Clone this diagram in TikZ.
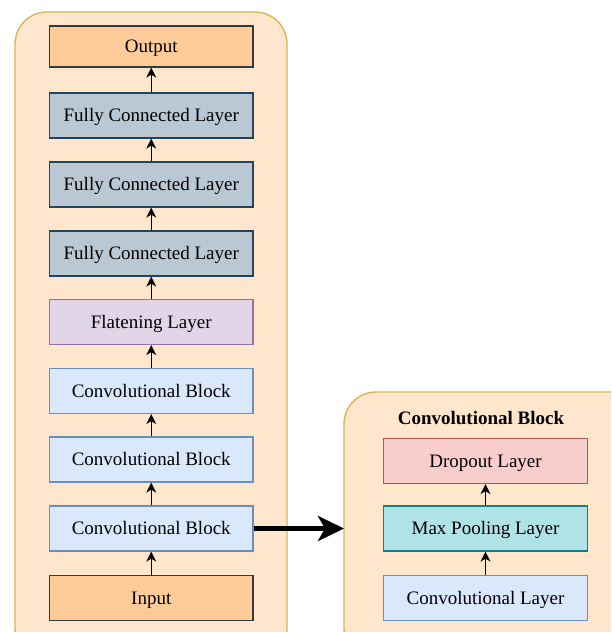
\documentclass[tikz,border=0pt]{standalone}
\usepackage{fontspec}
\setmainfont{Liberation Serif}
\usetikzlibrary{arrows.meta}
\definecolor{panelfill}{HTML}{FFE6CC}
\definecolor{panelline}{HTML}{D6B656}
\definecolor{ioFill}{HTML}{FFCC99}
\definecolor{ioLine}{HTML}{36393D}
\definecolor{fcFill}{HTML}{BAC8D3}
\definecolor{fcLine}{HTML}{23445D}
\definecolor{flFill}{HTML}{E1D5E7}
\definecolor{flLine}{HTML}{9673A6}
\definecolor{cbFill}{HTML}{DAE8FC}
\definecolor{cbLine}{HTML}{6C8EBF}
\definecolor{doFill}{HTML}{F8CECC}
\definecolor{doLine}{HTML}{B85450}
\definecolor{mpFill}{HTML}{B0E3E6}
\definecolor{mpLine}{HTML}{0E8088}
\tikzset{
  panel/.style={draw=panelline, fill=panelfill, line width=1.4pt, rounded corners=32pt},
  layer/.style={draw, line width=1.2pt, minimum width=203.5pt, minimum height=45pt,
    inner sep=0pt, text height=12.6pt, text depth=0pt,
    font=\fontsize{19}{22}\selectfont},
  iobox/.style={layer, fill=ioFill, draw=ioLine},
  fcbox/.style={layer, fill=fcFill, draw=fcLine},
  flbox/.style={layer, fill=flFill, draw=flLine},
  cbbox/.style={layer, fill=cbFill, draw=cbLine},
  dobox/.style={layer, fill=doFill, draw=doLine},
  mpbox/.style={layer, fill=mpFill, draw=mpLine},
  flow/.style={-{Stealth[length=10pt, width=10pt, inset=3pt]}, line width=1.4pt},
  bigflow/.style={-{Stealth[length=26pt, width=25pt, inset=7pt]}, line width=4.8pt}
}
\begin{document}
\begin{tikzpicture}[x=1pt, y=-1pt]
\useasboundingbox (0,0) rectangle (611,632);
\clip (0,0) rectangle (611,632);
\fill[white] (0,0) rectangle (611,632);

% containers
\draw[panel] (15,12) rectangle (287,660);
\draw[panel] (344,392) rectangle (660,660);

% main network column
\node[iobox, minimum height=41pt] (out) at (151.25,46.5) {Output};
\node[fcbox] (fc1) at (151.25,115.5) {Fully Connected Layer};
\node[fcbox] (fc2) at (151.25,184.5) {Fully Connected Layer};
\node[fcbox] (fc3) at (151.25,253.5) {Fully Connected Layer};
\node[flbox] (flat) at (151.25,322) {Flatening Layer};
\node[cbbox] (cb1) at (151.25,391) {Convolutional Block};
\node[cbbox] (cb2) at (151.25,459.5) {Convolutional Block};
\node[cbbox] (cb3) at (151.25,528.5) {Convolutional Block};
\node[iobox] (in) at (151.25,598) {Input};

\draw[flow] (in) -- (cb3);
\draw[flow] (cb3) -- (cb2);
\draw[flow] (cb2) -- (cb1);
\draw[flow] (cb1) -- (flat);
\draw[flow] (flat) -- (fc3);
\draw[flow] (fc3) -- (fc2);
\draw[flow] (fc2) -- (fc1);
\draw[flow] (fc1) -- (out);

% expanded convolutional block
\node[font=\fontsize{19}{22}\selectfont\bfseries, text height=12.6pt, text depth=0pt, inner sep=0pt]
  (title) at (481,418.5) {Convolutional Block};
\node[dobox, minimum width=204pt] (drop) at (485.5,461) {Dropout Layer};
\node[mpbox, minimum width=204pt] (pool) at (485.5,528.5) {Max Pooling Layer};
\node[cbbox, minimum width=204pt] (conv) at (485.5,598) {Convolutional Layer};

\draw[flow] (conv) -- (pool);
\draw[flow] (pool) -- (drop);

\coordinate (blockedge) at (344,528.5);
\draw[bigflow] (cb3.east) -- (blockedge);
\end{tikzpicture}
\end{document}
